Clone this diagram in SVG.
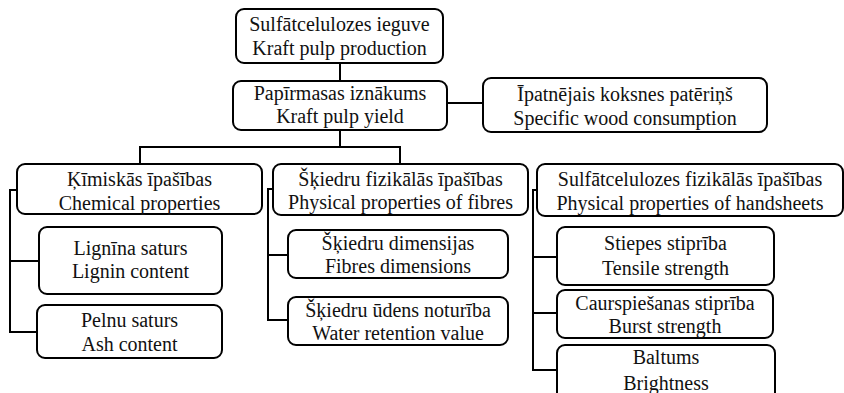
<svg xmlns="http://www.w3.org/2000/svg" width="844" height="393" viewBox="0 0 844 393">
<style>
.b{fill:#fff;stroke:#000;stroke-width:2}
.t{font-family:"Liberation Serif","Times New Roman",serif;font-size:20px;fill:#111;text-anchor:middle}
.c{fill:none;stroke:#000;stroke-width:2}
</style>
<rect width="844" height="393" fill="#fff"/>
<g id="connectors">
<path class="c" d="M340 63V81"/>
<path class="c" d="M447 103H483"/>
<path class="c" d="M340 130V147H140V164M340 147H400V164"/>
<path class="c" d="M17 190H10V332H37M10 261H39"/>
<path class="c" d="M273 189H268V320H288M268 255H288"/>
<path class="c" d="M537 190H533V370H557M533 257H557M533 313H557"/>
</g>
<g id="n1"><rect class="b" x="236" y="9" width="207" height="54" rx="8"/><text class="t" x="339.5" y="31">Sulfātcelulozes ieguve</text><text class="t" x="339.5" y="55">Kraft pulp production</text></g>
<g id="n2"><rect class="b" x="233" y="81" width="214" height="49" rx="8"/><text class="t" x="340" y="100">Papīrmasas iznākums</text><text class="t" x="340" y="123">Kraft pulp yield</text></g>
<g id="n3"><rect class="b" x="483" y="78" width="284" height="54" rx="8"/><text class="t" x="625" y="101">Īpatnējais koksnes patēriņš</text><text class="t" x="625" y="125">Specific wood consumption</text></g>
<g id="n4"><rect class="b" x="17" y="164" width="245" height="50" rx="8"/><text class="t" x="139.5" y="186">Ķīmiskās īpašības</text><text class="t" x="139.5" y="210">Chemical properties</text></g>
<g id="n5"><rect class="b" x="39" y="227" width="183" height="67" rx="8"/><text class="t" x="130.5" y="255">Lignīna saturs</text><text class="t" x="130.5" y="278">Lignin content</text></g>
<g id="n6"><rect class="b" x="37" y="305" width="185" height="53" rx="8"/><text class="t" x="129.5" y="327">Pelnu saturs</text><text class="t" x="129.5" y="351">Ash content</text></g>
<g id="n7"><rect class="b" x="273" y="164" width="255" height="51" rx="8"/><text class="t" x="400.5" y="186">Šķiedru fizikālās īpašības</text><text class="t" x="400.5" y="209">Physical properties of fibres</text></g>
<g id="n8"><rect class="b" x="288" y="230" width="220" height="48" rx="8"/><text class="t" x="398" y="250">Šķiedru dimensijas</text><text class="t" x="398" y="273">Fibres dimensions</text></g>
<g id="n9"><rect class="b" x="288" y="297" width="220" height="48" rx="8"/><text class="t" x="398" y="317">Šķiedru ūdens noturība</text><text class="t" x="398" y="340">Water retention value</text></g>
<g id="n10"><rect class="b" x="537" y="164" width="306" height="52" rx="8"/><text class="t" x="690" y="186">Sulfātcelulozes fizikālās īpašības</text><text class="t" x="690" y="210">Physical properties of handsheets</text></g>
<g id="n11"><rect class="b" x="557" y="227" width="217" height="58" rx="8"/><text class="t" x="665.5" y="250">Stiepes stiprība</text><text class="t" x="665.5" y="275">Tensile strength</text></g>
<g id="n12"><rect class="b" x="557" y="290" width="216" height="48" rx="8"/><text class="t" x="665" y="310">Caurspiešanas stiprība</text><text class="t" x="665" y="333">Burst strength</text></g>
<g id="n13"><rect class="b" x="557" y="345" width="218" height="60" rx="8"/><text class="t" x="666" y="364">Baltums</text><text class="t" x="666" y="390">Brightness</text></g>
</svg>
